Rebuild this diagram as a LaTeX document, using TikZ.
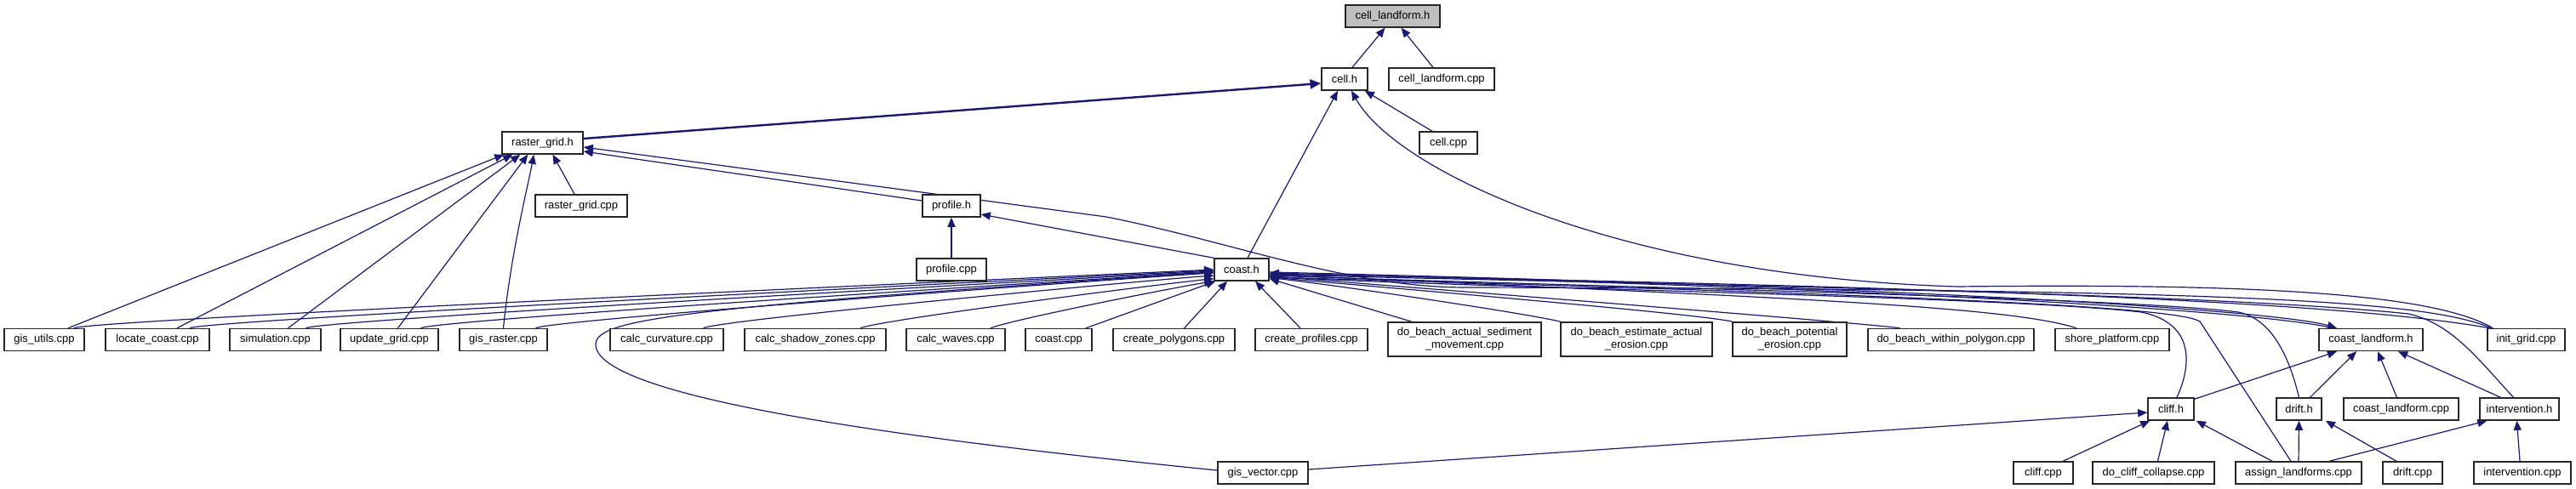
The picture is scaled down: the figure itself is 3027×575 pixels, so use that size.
\documentclass[tikz,border=0pt]{standalone}
\usepackage{fontspec}
\setmainfont{Liberation Sans}
\usetikzlibrary{arrows.meta,calc}
\definecolor{edgeblue}{HTML}{191970}
\definecolor{mainfill}{HTML}{BFBFBF}
\pgfdeclarelayer{bg}
\pgfsetlayers{bg,main}
\begin{document}
\begin{tikzpicture}[x=0.25mm,y=-0.25mm,
  box/.style={draw=black!85, line width=0.35mm, fill=white, minimum height=6.5mm, inner sep=0pt,
    font=\fontsize{9.2}{10.6}\selectfont, align=center},
  bw/.style={minimum width=#1*0.25mm},
  tall/.style={minimum height=10mm},
  dep/.style={draw=edgeblue, line width=0.3mm, -{Triangle[length=2.8mm,width=2.3mm]}},
  bold/.style={line width=0.6mm, -{Triangle[length=3.2mm,width=2.7mm]}}]
\useasboundingbox (0,0) rectangle (3027,575);
% row 0-4
\node[box,bw=111,fill=mainfill] (cl) at (1636.5,19) {cell\_landform.h};
\node[box,bw=54] (ch) at (1580,93) {cell.h};
\node[box,bw=124] (clc) at (1694,93) {cell\_landform.cpp};
\node[box,bw=95] (rg) at (637.5,168) {raster\_grid.h};
\node[box,bw=68] (cc) at (1702,168) {cell.cpp};
\node[box,bw=108] (rgc) at (683,242) {raster\_grid.cpp};
\node[box,bw=68] (ph) at (1118,242) {profile.h};
\node[box,bw=82] (pc) at (1118,317) {profile.cpp};
\node[box,bw=64] (co) at (1459,317) {coast.h};
% row 5
\node[box,bw=94] (gu) at (52,399.5) {gis\_utils.cpp};
\node[box,bw=122] (lc) at (185,399.5) {locate\_coast.cpp};
\node[box,bw=107] (si) at (323.5,399.5) {simulation.cpp};
\node[box,bw=115] (ug) at (457.5,399.5) {update\_grid.cpp};
\node[box,bw=103] (gr) at (591.5,399.5) {gis\_raster.cpp};
\node[box,bw=133] (cu) at (783.5,399.5) {calc\_curvature.cpp};
\node[box,bw=166] (sz) at (958,399.5) {calc\_shadow\_zones.cpp};
\node[box,bw=116] (cw) at (1123,399.5) {calc\_waves.cpp};
\node[box,bw=78] (cst) at (1244,399.5) {coast.cpp};
\node[box,bw=143] (cpo) at (1379.5,399.5) {create\_polygons.cpp};
\node[box,bw=132] (cpr) at (1541,399.5) {create\_profiles.cpp};
\node[box,bw=180,tall] (dba) at (1721,399) {do\_beach\_actual\_sediment\\\_movement.cpp};
\node[box,bw=178,tall] (dbe) at (1923,399) {do\_beach\_estimate\_actual\\\_erosion.cpp};
\node[box,bw=134,tall] (dbp) at (2103,399) {do\_beach\_potential\\\_erosion.cpp};
\node[box,bw=195] (dbw) at (2292.5,399.5) {do\_beach\_within\_polygon.cpp};
\node[box,bw=134] (sp) at (2482,399.5) {shore\_platform.cpp};
\node[box,bw=122] (clh) at (2786,399.5) {coast\_landform.h};
\node[box,bw=91] (ig) at (2968.5,399.5) {init\_grid.cpp};
% row 6
\node[box,bw=54] (cf) at (2551,481) {cliff.h};
\node[box,bw=53] (dh) at (2701.5,481) {drift.h};
\node[box,bw=135] (clp) at (2821.5,481) {coast\_landform.cpp};
\node[box,bw=93] (ih) at (2960.5,481) {intervention.h};
% row 7
\node[box,bw=106] (gv) at (1484,556) {gis\_vector.cpp};
\node[box,bw=70] (cfc) at (2401,556) {cliff.cpp};
\node[box,bw=143] (dcc) at (2530.5,556) {do\_cliff\_collapse.cpp};
\node[box,bw=148] (al) at (2701,556) {assign\_landforms.cpp};
\node[box,bw=70] (dc) at (2835,556) {drift.cpp};
\node[box,bw=114] (ic) at (2964,556) {intervention.cpp};

\begin{pgfonlayer}{bg}
% top
\draw[dep] ($(ch.north)+(9,0)$) -- ($(cl.south)+(-9,0)$);
\draw[dep] ($(clc.north)+(-10,0)$) -- ($(cl.south)+(10,0)$);
\draw[dep,bold] ($(rg.east)+(0,-5)$) -- ($(ch.west)+(0,5)$);
\draw[dep] ($(cc.north)+(-19,0)$) -- ($(ch.south east)+(-4,0)$);
\draw[dep] ($(co.north)+(7,0)$) -- ($(ch.south)+(-8,0)$);
\draw[dep] ($(ig.north west)+(7,0)$) .. controls (2860,345) and (2650,333) .. (2300,337)
  .. controls (1900,325) and (1640,200) .. ($(ch.south)+(8,0)$);
% raster_grid.h
\draw[dep] ($(ig.north west)+(5,0)$) .. controls (2850,352) and (2600,340) .. (1720,338)
  .. controls (1580,337) and (1450,285) .. (1300,255) -- ($(rg.east)+(0,5)$);
\draw[dep] ($(rgc.north)+(-8,0)$) -- ($(rg.south)+(12,0)$);
\draw[dep] ($(ph.west)+(0,-6)$) -- ($(rg.east)+(0,10)$);
\draw[dep] ($(gu.north)+(28,0)$) -- ($(rg.south west)+(3,0)$);
\draw[dep] ($(lc.north)+(23,0)$) -- ($(rg.south west)+(13,0)$);
\draw[dep] ($(si.north)+(15,0)$) -- ($(rg.south west)+(22,0)$);
\draw[dep] ($(ug.north)+(10,0)$) -- ($(rg.south west)+(31,0)$);
\draw[dep] (gr.north) .. controls (600,300) and (620,220) .. ($(rg.south west)+(38,0)$);
% profile.h
\draw[dep] (pc.north) -- (ph.south);
\draw[dep] (co.north west) -- ($(ph.east)+(0,10)$);
% coast.h from the left
\draw[dep] ($(gu.north)+(35,0)$) .. controls +(15,-10) and +(-40,2) .. ($(co.west)+(0,0)$);
\draw[dep] ($(lc.north)+(38,0)$) .. controls +(15,-10) and +(-40,2) .. ($(co.west)+(0,1)$);
\draw[dep] ($(si.north)+(36,0)$) .. controls +(15,-10) and +(-40,2) .. ($(co.west)+(0,2)$);
\draw[dep] ($(ug.north)+(37,0)$) .. controls +(15,-10) and +(-40,2) .. ($(co.west)+(0,3)$);
\draw[dep] ($(gr.north)+(38,0)$) .. controls +(15,-10) and +(-40,2) .. ($(co.west)+(0,4)$);
\draw[dep] ($(cu.north)+(43,0)$) .. controls +(20,-10) and +(-60,4) .. ($(co.west)+(0,7)$);
\draw[dep] ($(sz.north)+(53,0)$) .. controls +(25,-10) and +(-60,6) .. ($(co.south west)+(0,-3)$);
\draw[dep] ($(cw.north)+(41,0)$) .. controls +(25,-10) and +(-50,8) .. (co.south west);
\draw[dep] ($(cst.north)+(32,0)$) -- ($(co.south west)+(2,0)$);
\draw[dep] ($(cpo.north)+(12,0)$) -- ($(co.south)+(-17,0)$);
\draw[dep] ($(cpr.north)+(-13,0)$) -- ($(co.south)+(16,0)$);
\draw[dep] ($(gv.west)+(0,-3)$) .. controls (1100,520) and (700,470) .. (700,405)
  .. controls (700,375) and (800,362) .. ($(co.west)+(0,3)$);
% coast.h from the right
\draw[dep] ($(dba.north)+(-62,0)$) -- ($(co.south east)+(0,-3)$);
\draw[dep] ($(dbe.north)+(-89,0)$) .. controls +(-40,-10) and +(60,6) .. ($(co.south east)+(0,-4)$);
\draw[dep] ($(dbp.north)+(-67,0)$) .. controls +(-40,-10) and +(80,8) .. ($(co.south east)+(0,-5)$);
\draw[dep] ($(dbw.north)+(-60,0)$) .. controls +(-40,-6) and +(100,8) .. ($(co.south east)+(0,-6)$);
\draw[dep] ($(sp.north)+(-42,0)$) .. controls (2360,360) and (2100,350) .. ($(co.east)+(0,6)$);
\draw[dep] ($(cf.north)+(7,0)$) .. controls (2575,430) and (2580,380) .. (2516,367)
  .. controls (2350,348) and (1700,338) .. ($(co.east)+(0,8)$);
\draw[dep] ($(al.north)+(-9,0)$) -- (2585,378) .. controls (2560,362) and (2300,348) .. ($(co.east)+(0,9)$);
\draw[dep] (dh.north) .. controls (2690,420) and (2670,375) .. (2630,367)
  .. controls (2500,350) and (1900,338) .. ($(co.east)+(0,7)$);
\draw[dep] ($(ih.north)+(-7,0)$) .. controls (2910,420) and (2880,380) .. (2830,369)
  .. controls (2600,345) and (2000,335) .. ($(co.east)+(0,6)$);
\draw[dep] ($(ig.north west)+(3,0)$) .. controls (2700,345) and (2000,333) .. ($(co.east)+(0,5)$);
\draw[dep] ($(clh.north)+(-45,0)$) .. controls (2700,375) and (2450,345) .. ($(co.east)+(0,4)$);
\draw[dep] ($(co.east)+(0,3)$) .. controls (2450,343) and (2700,372) .. ($(clh.north)+(-40,0)$);
% coast_landform.h
\draw[dep] ($(cf.north east)+(0,2)$) -- ($(clh.south)+(-40,0)$);
\draw[dep] ($(dh.north)+(13,0)$) -- ($(clh.south)+(-17,0)$);
\draw[dep] ($(clp.north)+(-5,0)$) -- ($(clh.south)+(8,0)$);
\draw[dep] ($(ih.north)+(-22,0)$) -- ($(clh.south)+(32,0)$);
% cliff.h, drift.h, intervention.h
\draw[dep] ($(gv.east)+(0,-4)$) -- ($(cf.west)+(0,4)$);
\draw[dep] ($(cfc.north)+(23,0)$) -- ($(cf.south west)+(3,0)$);
\draw[dep] ($(dcc.north)+(5,0)$) -- ($(cf.south)+(-4,0)$);
\draw[dep] ($(al.north)+(-31,0)$) -- ($(cf.south east)+(2,0)$);
\draw[dep] (al.north) -- (dh.south);
\draw[dep] ($(dc.north)+(-19,0)$) -- ($(dh.south east)+(4,0)$);
\draw[dep] ($(al.north)+(36,0)$) -- ($(ih.south)+(-38,0)$);
\draw[dep] ($(ic.north)+(-3,0)$) -- ($(ih.south)+(-3,0)$);
\end{pgfonlayer}
\end{tikzpicture}
\end{document}
